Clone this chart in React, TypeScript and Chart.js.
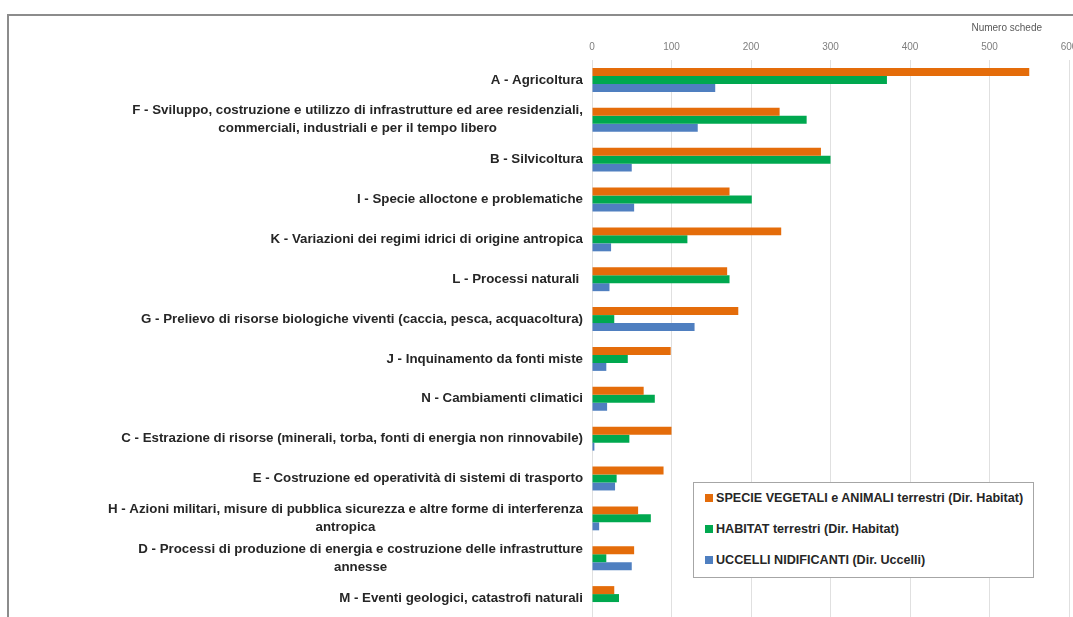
import React, { useEffect, useRef } from "react";
import { Chart, registerables } from "chart.js";

Chart.register(...registerables);

const categories: (string | string[])[] = [
  "A - Agricoltura",
  ["F - Sviluppo, costruzione e utilizzo di infrastrutture ed aree residenziali,", "commerciali, industriali e per il tempo libero"],
  "B - Silvicoltura",
  "I - Specie alloctone e problematiche",
  "K - Variazioni dei regimi idrici di origine antropica",
  "L - Processi naturali ",
  "G - Prelievo di risorse biologiche viventi (caccia, pesca, acquacoltura)",
  "J - Inquinamento da fonti miste",
  "N - Cambiamenti climatici",
  "C - Estrazione di risorse (minerali, torba, fonti di energia non rinnovabile)",
  "E - Costruzione ed operatività di sistemi di trasporto",
  ["H - Azioni militari, misure di pubblica sicurezza e altre forme di interferenza", "antropica"],
  ["D - Processi di produzione di energia e costruzione delle infrastrutture", "annesse"],
  "M - Eventi geologici, catastrofi naturali",
];

const specieValues = [550, 236, 288, 173, 238, 170, 184, 99, 65, 100, 90, 58, 53, 28];
const habitatValues = [371, 270, 300, 201, 120, 173, 28, 45, 79, 47, 31, 74, 18, 34];
const uccelliValues = [155, 133, 50, 53, 24, 22, 129, 18, 19, 3, 29, 9, 50, 0];

const seriesLabels = [
  "SPECIE VEGETALI e ANIMALI terrestri (Dir. Habitat)",
  "HABITAT terrestri (Dir. Habitat)",
  "UCCELLI NIDIFICANTI (Dir. Uccelli)",
];
const seriesColors = ["#E46C0A", "#00A84F", "#4F7FC0"];

const axisTitle = "Numero schede";
const xMin = 0;
const xMax = 600;
const xStep = 100;

const FONT = "'Liberation Sans', Arial, sans-serif";

const labelPlugin = {
  id: "customLabels",
  afterDraw(chart: any) {
    const ctx = chart.ctx;
    const yScale = chart.scales.y;
    const area = chart.chartArea;
    ctx.save();
    ctx.font = `bold 13.3px ${FONT}`;
    ctx.fillStyle = "#262626";
    ctx.textAlign = "center";
    ctx.textBaseline = "middle";
    const lh = 18;
    categories.forEach((lab, i) => {
      const lines = Array.isArray(lab) ? lab : [lab];
      const y = yScale.getPixelForTick(i);
      const maxW = Math.max(...lines.map((l) => ctx.measureText(l).width));
      const right = area.left - 9;
      const cx = right - maxW / 2;
      const y0 = y - ((lines.length - 1) * lh) / 2;
      lines.forEach((l, j) => ctx.fillText(l, cx, y0 + j * lh));
    });
    ctx.font = `10px ${FONT}`;
    ctx.fillStyle = "#595959";
    ctx.textAlign = "right";
    ctx.fillText(axisTitle, area.right - 27, 20);
    ctx.restore();
  },
};

export default function App() {
  const ref = useRef<HTMLCanvasElement>(null);
  useEffect(() => {
    if (!ref.current) return;
    const chart = new Chart(ref.current, {
      type: "bar",
      data: {
        labels: categories.map((c) => (Array.isArray(c) ? c.join(" ") : c)),
        datasets: [specieValues, habitatValues, uccelliValues].map((d, i) => ({
          label: seriesLabels[i],
          data: d,
          backgroundColor: seriesColors[i],
          borderWidth: 0,
          barPercentage: 1.0,
          categoryPercentage: 0.6,
        })),
      },
      options: {
        indexAxis: "y",
        responsive: false,
        animation: false,
        layout: { padding: { top: 0, bottom: 2, left: 0, right: 39 } },
        plugins: { legend: { display: false }, tooltip: { enabled: false } },
        scales: {
          x: {
            position: "top",
            min: xMin,
            max: xMax,
            ticks: { stepSize: xStep, color: "#7f7f7f", font: { size: 10, family: FONT }, padding: 7 },
            grid: { color: "#e0e0e0", drawTicks: false },
            border: { display: false },
            afterFit: (s: any) => {
              s.height = 52;
            },
          },
          y: {
            ticks: { display: false },
            grid: { display: false },
            border: { display: false },
            afterFit: (s: any) => {
              s.width = 584;
            },
          },
        },
      },
      plugins: [labelPlugin],
    });
    return () => chart.destroy();
  }, []);

  return (
    <div style={{ position: "fixed", left: 0, top: 0, width: 1073, height: 617, overflow: "hidden", background: "#fff" }}>
      <div
        style={{
          position: "absolute",
          left: 7,
          top: 14,
          width: 2000,
          height: 2000,
          borderTop: "2px solid #8c8c8c",
          borderLeft: "2px solid #8c8c8c",
        }}
      />
      <canvas ref={ref} width={1100} height={612} style={{ position: "absolute", left: 8, top: 8, display: "block" }} />
      <div
        style={{
          position: "absolute",
          left: 693,
          top: 482,
          width: 339,
          height: 94,
          border: "1px solid #a6a6a6",
          background: "#fff",
          fontFamily: FONT,
          fontWeight: "bold",
          fontSize: 12.6,
          color: "#262626",
        }}
      >
        {seriesLabels.map((l, i) => (
          <div
            key={l}
            style={{ position: "absolute", left: 11, top: 7 + i * 31, height: 16, display: "flex", alignItems: "center", whiteSpace: "nowrap" }}
          >
            <span style={{ display: "inline-block", width: 8, height: 8, background: seriesColors[i], marginRight: 3 }} />
            {l}
          </div>
        ))}
      </div>
    </div>
  );
}
